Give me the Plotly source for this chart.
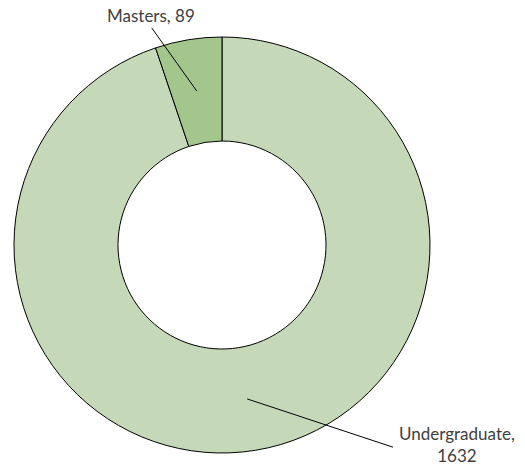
import numpy as np
import plotly.graph_objects as go

labels = ['Undergraduate', 'Masters']
values = [1632, 89]
colors = ['#C5D9B9', '#A3C68D']

W, H = 525, 467
ml, mr, mt, mb = 14, 95, 37, 14
hole = 0.5

fig = go.Figure()
fig.add_trace(go.Pie(
    labels=labels,
    values=values,
    hole=hole,
    sort=False,
    direction='clockwise',
    rotation=0,
    marker=dict(colors=colors, line=dict(color='#000000', width=1)),
    textinfo='none',
    hoverinfo='label+value',
    showlegend=False
))

# leader lines from the middle of each slice to its label
total = sum(values)
fracs = np.array(values) / total
starts = np.concatenate([[0], np.cumsum(fracs)[:-1]])
mids = (starts + fracs / 2) * 2 * np.pi  # clockwise from 12 o'clock
r_mid = 0.5 * (1 + hole) / 2

label_pos = [dict(tx=1.064, ty=0.076, ya='top', lx=0.911, ly=0.014, text='Undergraduate,<br>1632'),
             dict(tx=0.329, ty=1.052, ya='middle', lx=0.331, ly=1.022, text='Masters, 89')]

for m, lp in zip(mids, label_pos):
    px = 0.5 + r_mid * np.sin(m)
    py = 0.5 + r_mid * np.cos(m)
    fig.add_shape(type='line', xref='paper', yref='paper',
                  x0=px, y0=py, x1=lp['lx'], y1=lp['ly'],
                  line=dict(color='#000000', width=1))
    fig.add_annotation(xref='paper', yref='paper', x=lp['tx'], y=lp['ty'],
                       text=lp['text'], showarrow=False,
                       xanchor='center', yanchor=lp['ya'],
                       font=dict(family='Lato', size=17, color='#404040'))

fig.update_layout(
    width=W, height=H,
    margin=dict(l=ml, r=mr, t=mt, b=mb),
    paper_bgcolor='white',
    plot_bgcolor='white'
)

# drop the default page margin so the figure sits at the window's corner
fig.write_html('out.html', config={'displayModeBar': False},
               post_script="document.body.style.margin='0';")
